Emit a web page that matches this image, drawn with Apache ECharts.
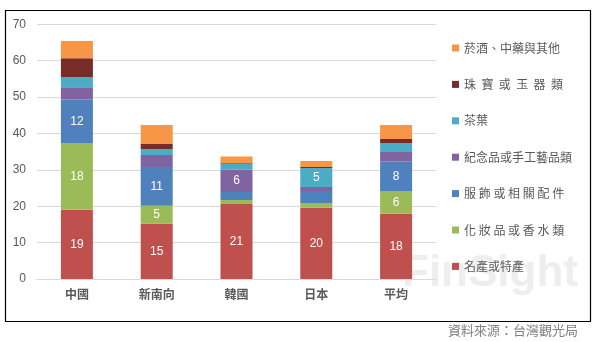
<!DOCTYPE html>
<html><head><meta charset="utf-8">
<script src="https://cdn.jsdelivr.net/npm/echarts@6/dist/echarts.min.js"></script>
<style>html,body{margin:0;padding:0;background:#fff}#c{width:599px;height:342px}</style>
</head><body><div id="c"></div>
<script>
const categories = ['中國', '新南向', '韓國', '日本', '平均'];
const seriesNames = ['名產或特產', '化 妝 品 或 香 水 類', '服 飾 或 相 關 配 件', '紀念品或手工藝品類', '茶葉', '珠  寶  或  玉  器  類', '菸酒、中藥與其他'];
const specialty = [19.0, 15.2, 20.6, 19.6, 17.9];
const cosmetics = [18.4, 4.9, 1.1, 1.3, 6.3];
const apparel = [11.9, 10.7, 2.2, 3.3, 8.1];
const souvenirs = [3.4, 3.3, 6.1, 1.1, 2.6];
const tea = [2.8, 1.6, 1.6, 5.2, 2.5];
const jewelry = [5.2, 1.4, 0.2, 0.3, 1.1];
const others = [4.7, 5.2, 1.9, 1.6, 3.8];
const yTicks = [0, 10, 20, 30, 40, 50, 60, 70];
const colors = ['#C0504D', '#9BBB59', '#4F81BD', '#8064A2', '#4BACC6', '#772C2A', '#F79646'];
const values = [specialty, cosmetics, apparel, souvenirs, tea, jewelry, others];
const labelled = [true, true, true, true, true, false, false];

const chart = echarts.init(document.getElementById('c'));
const font = '"Noto Sans CJK TC", "Noto Sans", sans-serif';
chart.setOption({
  animation: false,
  textStyle: { fontFamily: font },
  grid: { left: 37, right: 163, top: 24.3, bottom: 63 },
  xAxis: {
    type: 'category', data: categories,
    axisLine: { lineStyle: { color: '#D9D9D9' } },
    axisTick: { show: false },
    axisLabel: { color: '#595959', fontSize: 12, fontWeight: 'bold', margin: 9, fontFamily: font }
  },
  yAxis: {
    type: 'value', min: yTicks[0], max: yTicks[yTicks.length - 1], interval: 10,
    axisLine: { show: false }, axisTick: { show: false },
    axisLabel: { color: '#595959', fontSize: 12, margin: 11, fontFamily: 'Liberation Sans, sans-serif' },
    splitLine: { lineStyle: { color: '#D9D9D9' } }
  },
  legend: {
    orient: 'vertical', left: 447, top: 36,
    itemWidth: 7, itemHeight: 7, itemGap: 22.4, icon: 'rect',
    data: seriesNames.slice().reverse(),
    textStyle: { color: '#595959', fontSize: 12, lineHeight: 14, fontFamily: font }
  },
  series: seriesNames.map((n, i) => ({
    name: n, type: 'bar', stack: 'total', barWidth: 32,
    itemStyle: { color: colors[i] },
    label: {
      show: labelled[i], position: 'inside', color: '#fff', fontSize: 12,
      fontFamily: 'Liberation Sans, sans-serif',
      formatter: p => (p.value >= 4.8 ? String(Math.round(p.value)) : '')
    },
    data: values[i]
  })),
  graphic: [
    { type: 'text', left: 402, top: 252, z: -1, style: { text: 'FinSight', fill: '#eeeeee', font: 'bold 44px "Liberation Sans", sans-serif' } },
    { type: 'rect', shape: { x: 5.5, y: 10.5, width: 585, height: 311 }, style: { fill: 'none', stroke: '#000', lineWidth: 1.2 } },
    { type: 'text', right: 21, top: 324, style: { text: '資料來源：台灣觀光局', fill: '#808080', font: '13px "Noto Sans CJK TC", sans-serif' } }
  ]
});
</script></body></html>
